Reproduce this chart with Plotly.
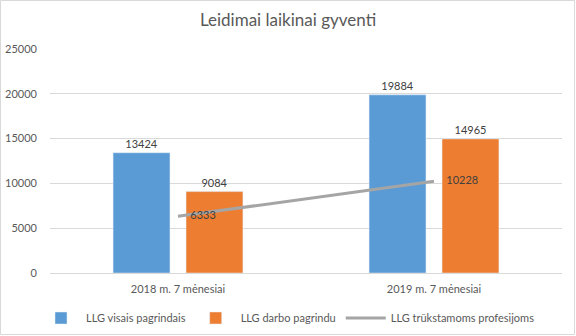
import plotly.graph_objects as go

categories = ["2018 m. 7 mėnesiai", "2019 m. 7 mėnesiai"]
visais_pagrindais = [13424, 19884]
darbo_pagrindu = [9084, 14965]
trukstamoms_profesijoms = [6333, 10228]

FONT = "Lato"
TXT = "#595959"
LBL = "#404040"

fig = go.Figure()
fig.add_trace(go.Bar(
    x=categories, y=visais_pagrindais, name="LLG visais pagrindais",
    marker_color="#5B9BD5", text=visais_pagrindais, textposition="outside",
    textfont=dict(color=LBL, size=11, family=FONT), cliponaxis=False,
))
fig.add_trace(go.Bar(
    x=categories, y=darbo_pagrindu, name="LLG darbo pagrindu",
    marker_color="#ED7D31", text=darbo_pagrindu, textposition="outside",
    textfont=dict(color=LBL, size=11, family=FONT), cliponaxis=False,
))
fig.add_trace(go.Scatter(
    x=categories, y=trukstamoms_profesijoms, name="LLG trūkstamoms profesijoms",
    mode="lines", line=dict(color="#A5A5A5", width=3),
))
# value labels for the line; the invisible markers set the label offset
fig.add_trace(go.Scatter(
    x=categories, y=trukstamoms_profesijoms, showlegend=False, hoverinfo="skip",
    mode="markers+text", marker=dict(size=18, opacity=0, color="#A5A5A5"),
    text=[str(v) for v in trukstamoms_profesijoms], textposition="middle right",
    textfont=dict(color=LBL, size=11, family=FONT), cliponaxis=False,
))

W, H = 576, 336
ml, mr, mt, mb = 50, 14, 49, 63
pw, ph = W - ml - mr, H - mt - mb

fig.update_layout(
    width=W, height=H,
    margin=dict(l=ml, r=mr, t=mt, b=mb, autoexpand=False),
    paper_bgcolor="white", plot_bgcolor="white",
    font=dict(family=FONT, color=TXT, size=11),
    title=dict(text="Leidimai laikinai gyventi", x=0.5, xanchor="center",
               y=1 - 20 / H, yanchor="middle",
               font=dict(size=17, color=TXT, family=FONT)),
    barmode="group", bargap=0.43, bargroupgap=0.22,
    showlegend=True,
    legend=dict(orientation="h", xref="container", x=288 / W, xanchor="center",
                yref="container", y=1 - 318 / H, yanchor="middle",
                font=dict(size=11, color=TXT, family=FONT),
                itemwidth=40, traceorder="normal"),
    xaxis=dict(showgrid=False, showline=True, linecolor="#D9D9D9", ticks="",
               tickfont=dict(size=11, color=TXT), ticklabelstandoff=6),
    yaxis=dict(range=[0, 25000], dtick=5000, showgrid=True, gridcolor="#D9D9D9",
               gridwidth=1, zeroline=False, ticks="", tickformat="d",
               tickfont=dict(size=11, color=TXT), ticklabelstandoff=12),
)

# light frame around the whole chart
fig.add_shape(type="rect", xref="paper", yref="paper",
              x0=-(ml - 0.5) / pw, x1=1 + (mr - 1.5) / pw,
              y0=-(mb - 1.5) / ph, y1=1 + (mt - 0.5) / ph,
              line=dict(color="#D9D9D9", width=1), layer="below")

fig.write_html("out.html")
